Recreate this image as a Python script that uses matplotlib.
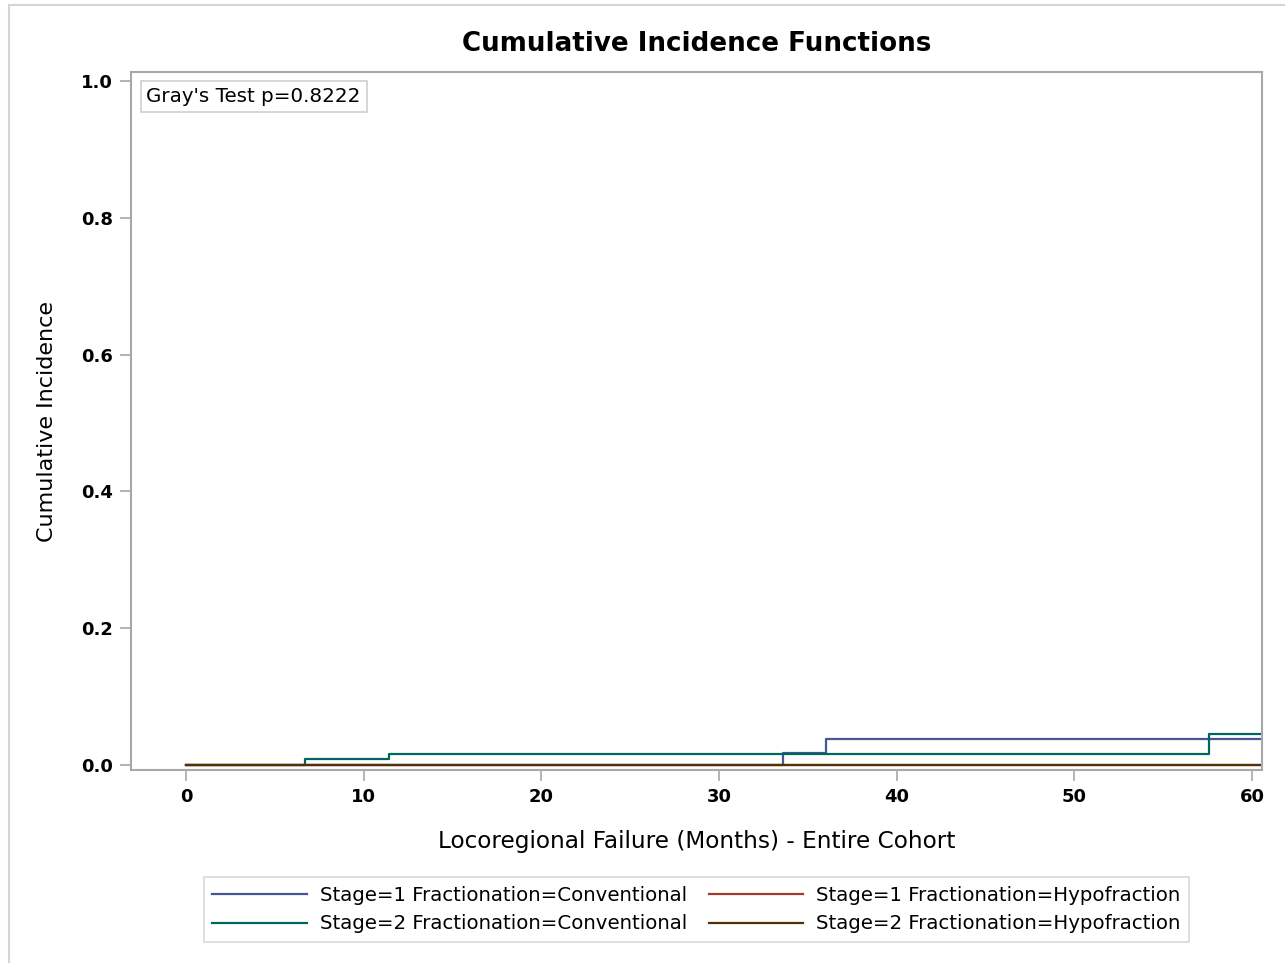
import matplotlib
matplotlib.use("Agg")
import matplotlib.pyplot as plt
from matplotlib.patches import Rectangle

plt.rcParams["font.family"] = ["DejaVu Sans"]

# Cumulative incidence step curves (months, incidence)
s1_conv_t = [0, 33.6, 36.0, 61.0]
s1_conv_y = [0.0, 0.018, 0.038, 0.038]
s2_conv_t = [0, 6.7, 11.4, 57.6, 61.0]
s2_conv_y = [0.0, 0.009, 0.016, 0.045, 0.045]
s1_hypo_t = [0, 61.0]
s1_hypo_y = [0.0, 0.0]
s2_hypo_t = [0, 61.0]
s2_hypo_y = [0.0, 0.0]

x_ticks = [0, 10, 20, 30, 40, 50, 60]
y_ticks = [0.0, 0.2, 0.4, 0.6, 0.8, 1.0]
p_value = 0.8222

COLORS = {
    "s1_conv": "#445694",
    "s1_hypo": "#A23A2E",
    "s2_conv": "#01665E",
    "s2_hypo": "#543005",
}
EDGE = "#a8a8a8"

fig = plt.figure(figsize=(12.85, 9.63), dpi=100)
ax = fig.add_axes([131 / 1285, 1 - 770 / 963, (1262 - 131) / 1285, (770 - 72) / 963])

# outer frame of the graph image
fig.patches.append(Rectangle((9 / 1285, -0.01), 1.0, 1 - 5 / 963 + 0.01,
                             transform=fig.transFigure, fill=False,
                             edgecolor="#d4d4d4", linewidth=1.5))

lw = 1.6
l1, = ax.step(s1_conv_t, s1_conv_y, where="post", color=COLORS["s1_conv"], lw=lw)
l3, = ax.step(s2_conv_t, s2_conv_y, where="post", color=COLORS["s2_conv"], lw=lw)
l2, = ax.step(s1_hypo_t, s1_hypo_y, where="post", color=COLORS["s1_hypo"], lw=lw)
l4, = ax.step(s2_hypo_t, s2_hypo_y, where="post", color=COLORS["s2_hypo"], lw=lw)

ax.set_xlim(-3.1, 60.56)
ax.set_ylim(-0.0073, 1.013)
ax.set_xticks(x_ticks)
ax.set_yticks(y_ticks)
ax.set_yticklabels([f"{v:.1f}" for v in y_ticks])
ax.tick_params(direction="out", length=8, width=1.2, color=EDGE,
               labelsize=13, pad=5)
for lab in ax.get_xticklabels() + ax.get_yticklabels():
    lab.set_fontweight("bold")
for sp in ax.spines.values():
    sp.set_color(EDGE)
    sp.set_linewidth(1.5)

ax.set_title("Cumulative Incidence Functions", fontsize=18.8, fontweight="bold", pad=15)
ax.set_xlabel("Locoregional Failure (Months) - Entire Cohort", fontsize=16.7, labelpad=17)
ax.set_ylabel("Cumulative Incidence", fontsize=16, labelpad=17)

ax.text(0.0137, 0.979, f"Gray's Test p={p_value:.4f}", transform=ax.transAxes,
        ha="left", va="top", fontsize=14.3,
        bbox=dict(boxstyle="square,pad=0.3", facecolor="white", edgecolor="#cfcfcf", linewidth=1.2))

handles = [l1, l3, l2, l4]
labels = ["Stage=1 Fractionation=Conventional", "Stage=2 Fractionation=Conventional",
          "Stage=1 Fractionation=Hypofraction", "Stage=2 Fractionation=Hypofraction"]
leg = fig.legend(handles, labels, ncol=2, loc="center", bbox_to_anchor=(0.5420, 1 - 909.5 / 963),
                 fontsize=14.2, frameon=True, fancybox=False, handlelength=4.8,
                 columnspacing=1.1, handletextpad=0.66, labelspacing=0.5,
                 borderpad=0.42, borderaxespad=0)
leg.get_frame().set_edgecolor("#cfcfcf")
leg.get_frame().set_linewidth(1.2)

fig.savefig("out.png", dpi=100)
